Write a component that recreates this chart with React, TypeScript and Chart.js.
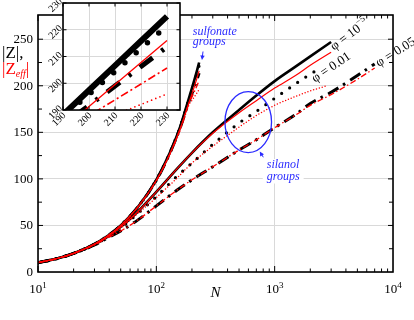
import React, { useEffect, useRef } from "react";
import { Chart, registerables } from "chart.js";
Chart.register(...registerables);

const W = 414;
const H = 320;
const FONT = "'Liberation Serif', 'Times New Roman', Times, serif";
const BLUE = "#2b2bff";
const RED = "#ff0000";
const BLACK = "#000000";
const GRID = "#d9d9d9";

// ---------- axis ticks ----------
const X_DECADES = [10, 100, 1000, 10000];
const X_EXPONENTS = ["1", "2", "3", "4"];
const Y_TICKS = [0, 50, 100, 150, 200, 250];
const INSET_TICKS = [190, 200, 210, 220, 230];

// ---------- sulfonate groups (all phi) ----------
const N_SULF = [10, 15, 20, 30, 40, 50, 70, 100, 130, 160, 190, 200, 210, 220, 230];
const Z_SULF_BLACK_SOLID = [10, 15, 20, 30, 40, 50, 70, 99, 128, 157, 188.2, 197.4, 206.6, 215.8, 225];
const Z_SULF_BLACK_DOT = [10, 15, 20, 30, 40, 50, 70, 99, 128, 157, 187.3, 195.9, 204.4, 213, 221.5];
const Z_SULF_BLACK_DASHDOT = [10, 15, 20, 30, 40, 50, 70, 98.5, 127.5, 156, 184.4, 191.7, 199, 206.3, 213.6];
const Z_SULF_RED_SOLID = [10, 15, 20, 30, 40, 50, 70, 98.5, 127, 155, 183.1, 191.3, 199.5, 207.8, 216];
const Z_SULF_RED_DASHDOT = [10, 15, 20, 30, 40, 50, 70, 98, 126.5, 154, 181.9, 187.9, 193.8, 199.7, 205.7];
const Z_SULF_RED_DOT = [10, 15, 20, 30, 40, 50, 70, 98, 126, 153, 180.4, 184.3, 188.2, 192.1, 196];

// ---------- silanol groups ----------
// phi = 1e-5
const N_PHI1 = [10, 15, 20, 30, 40, 50, 70, 100, 150, 200, 300, 500, 700, 1000, 1500, 2000, 3000];
const Z_PHI1_BLACK = [10, 15, 20, 29.5, 39, 48.5, 65, 86, 111, 128, 150, 174, 189.5, 205, 220.5, 231.5, 247];
const Z_PHI1_RED = [10, 15, 20, 29.5, 39, 48.5, 65, 86, 111, 128, 149, 171, 184, 197.5, 211, 222, 236];
// phi = 0.01
const N_PHI2_BLACK = [10, 15, 20, 30, 40, 50, 70, 100, 150, 200, 300, 500, 700, 1000, 1500, 2000, 2500];
const Z_PHI2_BLACK = [10, 15, 20, 29.5, 38.5, 47, 63, 81, 103, 117, 137, 160, 172.5, 186.5, 202, 212.5, 220];
const N_PHI2_RED = [10, 15, 20, 30, 40, 50, 70, 100, 150, 200, 300, 500, 700, 1000, 1500, 2000, 2750];
const Z_PHI2_RED = [10, 15, 20, 29.5, 38.5, 47, 63, 80, 101, 117, 135, 155.5, 168, 179, 188.5, 194.5, 200];
// phi = 0.05
const N_PHI3 = [10, 15, 20, 30, 40, 50, 70, 100, 150, 200, 300, 500, 700, 1000, 1500, 2000, 3000, 5000, 7000];
const Z_PHI3_BLACK = [10, 15, 20, 29, 37.5, 44, 56, 71, 88, 99, 113, 131, 142, 155, 169, 181, 193, 211, 223.5];
const Z_PHI3_RED = [10, 15, 20, 29, 37.5, 44, 56, 71, 88, 99, 113, 131, 142, 155, 168.5, 179, 190.5, 207, 219];

function lineDs(xs: number[], ys: number[], color: string, width: number, dash: number[], cap: string, smooth: boolean) {
  return {
    data: xs.map((x, i) => ({ x, y: ys[i] })),
    borderColor: color,
    backgroundColor: color,
    borderWidth: width,
    borderDash: dash,
    borderCapStyle: cap,
    pointRadius: 0,
    pointHoverRadius: 0,
    fill: false,
    tension: 0,
    cubicInterpolationMode: smooth ? "monotone" : "default",
    clip: 0,
  };
}

type Run = { t: string; font: string; dy?: number; color?: string };
function drawRuns(ctx: CanvasRenderingContext2D, x: number, y: number, rot: number, runs: Run[], baseline: CanvasTextBaseline = "alphabetic") {
  ctx.save();
  ctx.translate(x, y);
  ctx.rotate(rot);
  ctx.textAlign = "left";
  ctx.textBaseline = baseline;
  let cx = 0;
  for (const r of runs) {
    ctx.font = r.font;
    if (r.color) ctx.fillStyle = r.color;
    ctx.fillText(r.t, cx, r.dy || 0);
    cx += ctx.measureText(r.t).width;
  }
  ctx.restore();
}

function arrow(ctx: CanvasRenderingContext2D, x1: number, y1: number, x2: number, y2: number, color: string) {
  const ang = Math.atan2(y2 - y1, x2 - x1);
  const hl = 4.5;
  const hw = 2.2;
  ctx.save();
  ctx.strokeStyle = color;
  ctx.fillStyle = color;
  ctx.lineWidth = 1;
  ctx.beginPath();
  ctx.moveTo(x1, y1);
  ctx.lineTo(x2 - Math.cos(ang) * hl * 0.8, y2 - Math.sin(ang) * hl * 0.8);
  ctx.stroke();
  ctx.beginPath();
  ctx.moveTo(x2, y2);
  ctx.lineTo(x2 - Math.cos(ang) * hl - Math.sin(ang) * hw, y2 - Math.sin(ang) * hl + Math.cos(ang) * hw);
  ctx.lineTo(x2 - Math.cos(ang) * hl + Math.sin(ang) * hw, y2 - Math.sin(ang) * hl - Math.cos(ang) * hw);
  ctx.closePath();
  ctx.fill();
  ctx.restore();
}

const mainDecor = {
  id: "mainDecor",
  afterDraw(chart: any) {
    const { ctx, chartArea: a } = chart;
    const xs = chart.scales.x;
    const ys = chart.scales.y;
    const P = (n: number, z: number) => [xs.getPixelForValue(n), ys.getPixelForValue(z)];
    ctx.save();
    // frame
    ctx.strokeStyle = BLACK;
    ctx.lineWidth = 1.6;
    ctx.strokeRect(a.left, a.top, a.right - a.left, a.bottom - a.top);
    // inward ticks
    ctx.lineWidth = 1;
    ctx.beginPath();
    for (let v = 25; v <= 250; v += 25) {
      const py = ys.getPixelForValue(v);
      const len = v % 50 === 0 ? 5 : 4;
      ctx.moveTo(a.left, py);
      ctx.lineTo(a.left + len, py);
      ctx.moveTo(a.right, py);
      ctx.lineTo(a.right - len, py);
    }
    for (const d of [10, 100, 1000]) {
      for (let m = 1; m <= 9; m++) {
        const px = xs.getPixelForValue(d * m);
        const len = m === 1 ? 6 : 3.5;
        ctx.moveTo(px, a.bottom);
        ctx.lineTo(px, a.bottom - len);
        ctx.moveTo(px, a.top);
        ctx.lineTo(px, a.top + len);
      }
    }
    ctx.stroke();

    // y tick labels
    ctx.fillStyle = BLACK;
    ctx.font = `13px ${FONT}`;
    ctx.textAlign = "right";
    ctx.textBaseline = "middle";
    for (const v of Y_TICKS) ctx.fillText(String(v), a.left - 5, ys.getPixelForValue(v) + 0.5);

    // x tick labels 10^n
    X_DECADES.forEach((v, i) => {
      const px = xs.getPixelForValue(v);
      ctx.font = `13px ${FONT}`;
      const w1 = ctx.measureText("10").width;
      ctx.font = `9px ${FONT}`;
      const w2 = ctx.measureText(X_EXPONENTS[i]).width;
      const sx = px - (w1 + w2) / 2;
      drawRuns(ctx, sx, a.bottom + 21, 0, [
        { t: "10", font: `13px ${FONT}` },
        { t: X_EXPONENTS[i], font: `9px ${FONT}`, dy: -5.5 },
      ]);
    });

    // axis titles
    ctx.font = `italic 15px ${FONT}`;
    ctx.textAlign = "center";
    ctx.textBaseline = "alphabetic";
    ctx.fillText("N", 215.5, 296.5);

    drawRuns(ctx, 2, 58, 0, [{ t: "|Z|,", font: `17px ${FONT}`, color: BLACK }]);
    drawRuns(ctx, 2, 73.5, 0, [
      { t: "|Z", font: `17px ${FONT}`, color: RED },
      { t: "eff", font: `italic 10px ${FONT}`, dy: 3.5, color: RED },
      { t: "|", font: `17px ${FONT}`, color: RED },
    ]);

    // phi labels
    ctx.fillStyle = BLACK;
    drawRuns(ctx, 332, 48, (-37 * Math.PI) / 180, [
      { t: "\u03C6 = 10", font: `13px ${FONT}` },
      { t: "\u22125", font: `9px ${FONT}`, dy: -5 },
    ], "middle");
    drawRuns(ctx, 313, 80, (-34 * Math.PI) / 180, [{ t: "\u03C6 = 0.01", font: `13px ${FONT}` }], "middle");
    drawRuns(ctx, 377, 64, (-32 * Math.PI) / 180, [{ t: "\u03C6 = 0.05", font: `13px ${FONT}` }], "middle");

    // sulfonate annotation
    const [sx, sy1] = P(203, 254.5);
    const [, sy2] = P(203, 243.5);
    ctx.fillStyle = BLUE;
    ctx.font = `italic 12px ${FONT}`;
    ctx.textAlign = "left";
    ctx.textBaseline = "alphabetic";
    ctx.fillText("sulfonate", sx, sy1);
    ctx.fillText("groups", sx, sy2);
    const [at1x, at1y] = P(248, 236.8);
    const [ah1x, ah1y] = P(243, 227.7);
    arrow(ctx, at1x, at1y, ah1x, ah1y, BLUE);

    // silanol annotation
    const [tx, ty1] = P(857, 111.7);
    const [, ty2] = P(857, 99.3);
    ctx.font = `italic 12px ${FONT}`;
    const tw = Math.max(ctx.measureText("silanol").width, ctx.measureText("groups").width);
    ctx.fillStyle = "#ffffff";
    ctx.fillRect(tx - 4, ty1 - 9, tw + 8, ty2 - ty1 + 13);
    ctx.fillStyle = BLUE;
    ctx.fillText("silanol", tx, ty1);
    ctx.fillText("groups", tx, ty2);
    const [at2x, at2y] = P(802, 123.2);
    const [ah2x, ah2y] = P(748, 129.4);
    arrow(ctx, at2x, at2y, ah2x, ah2y, BLUE);

    // ellipse
    const [ex, ey] = P(598, 161);
    ctx.strokeStyle = BLUE;
    ctx.lineWidth = 1.3;
    ctx.beginPath();
    ctx.ellipse(ex, ey, 23.3, 30.5, 0, 0, Math.PI * 2);
    ctx.stroke();
    ctx.restore();
  },
};

const insetDecor = {
  id: "insetDecor",
  beforeDraw(chart: any) {
    const { ctx, chartArea: a } = chart;
    ctx.save();
    ctx.fillStyle = "#ffffff";
    ctx.fillRect(a.left, a.top, a.right - a.left, a.bottom - a.top);
    ctx.restore();
  },
  afterDraw(chart: any) {
    const { ctx, chartArea: a } = chart;
    const xs = chart.scales.x;
    const ys = chart.scales.y;
    ctx.save();
    ctx.strokeStyle = BLACK;
    ctx.lineWidth = 1.6;
    ctx.strokeRect(a.left, a.top, a.right - a.left, a.bottom - a.top);
    ctx.lineWidth = 1;
    ctx.beginPath();
    for (const v of INSET_TICKS) {
      const px = xs.getPixelForValue(v);
      const py = ys.getPixelForValue(v);
      ctx.moveTo(px, a.bottom);
      ctx.lineTo(px, a.bottom - 3.5);
      ctx.moveTo(px, a.top);
      ctx.lineTo(px, a.top + 3.5);
      ctx.moveTo(a.left, py);
      ctx.lineTo(a.left + 3.5, py);
      ctx.moveTo(a.right, py);
      ctx.lineTo(a.right - 3.5, py);
    }
    ctx.stroke();
    ctx.fillStyle = BLACK;
    ctx.font = `10px ${FONT}`;
    ctx.textAlign = "right";
    ctx.textBaseline = "middle";
    for (const v of INSET_TICKS) {
      const px = xs.getPixelForValue(v);
      ctx.save();
      ctx.translate(px + 1.5, a.bottom + 4);
      ctx.rotate(-Math.PI / 4);
      ctx.fillText(String(v), 0, 0);
      ctx.restore();
      const py = ys.getPixelForValue(v);
      ctx.save();
      ctx.translate(a.left - 2, py - 3);
      ctx.rotate(-Math.PI / 4);
      ctx.fillText(String(v), 0, 0);
      ctx.restore();
    }
    ctx.restore();
  },
};

function hiddenAxis(extra: any, vertical: boolean, ticks: number[]) {
  return {
    ...extra,
    display: true,
    afterBuildTicks: (s: any) => {
      s.ticks = ticks.map((v) => ({ value: v }));
    },
    afterFit: (s: any) => {
      if (vertical) s.width = 0;
      else s.height = 0;
    },
    ticks: { display: false },
    grid: { color: GRID, lineWidth: 1, drawTicks: false },
    border: { display: false },
  };
}

export default function App() {
  const mainRef = useRef<HTMLCanvasElement>(null);
  const insetRef = useRef<HTMLCanvasElement>(null);

  useEffect(() => {
    document.body.style.margin = "0";
    const mainDatasets = [
      lineDs(N_SULF, Z_SULF_RED_SOLID, RED, 1.2, [], "butt", true),
      lineDs(N_SULF, Z_SULF_RED_DASHDOT, RED, 1.3, [6, 2.5, 1.5, 2.5], "butt", true),
      lineDs(N_SULF, Z_SULF_RED_DOT, RED, 1.5, [0, 3], "round", true),
      lineDs(N_PHI1, Z_PHI1_RED, RED, 1.2, [], "butt", true),
      lineDs(N_PHI2_RED, Z_PHI2_RED, RED, 1.5, [0, 3], "round", true),
      lineDs(N_PHI3, Z_PHI3_RED, RED, 1.3, [6, 2.5, 1.5, 2.5], "butt", true),
      lineDs(N_SULF, Z_SULF_BLACK_SOLID, BLACK, 2.6, [], "butt", true),
      lineDs(N_SULF, Z_SULF_BLACK_DOT, BLACK, 3.2, [0, 9.7], "round", true),
      lineDs(N_SULF, Z_SULF_BLACK_DASHDOT, BLACK, 3, [12, 5.5, 2.5, 6], "butt", true),
      lineDs(N_PHI1, Z_PHI1_BLACK, BLACK, 2.6, [], "butt", true),
      lineDs(N_PHI2_BLACK, Z_PHI2_BLACK, BLACK, 3.2, [0, 9.7], "round", true),
      lineDs(N_PHI3, Z_PHI3_BLACK, BLACK, 3, [12, 5.5, 2.5, 6], "butt", true),
    ];
    const main = new Chart(mainRef.current as HTMLCanvasElement, {
      type: "line",
      data: { datasets: mainDatasets as any },
      options: {
        responsive: false,
        animation: false,
        devicePixelRatio: 1,
        events: [],
        layout: { padding: { left: 38, top: 15, right: 21, bottom: 48 } },
        plugins: { legend: { display: false }, tooltip: { enabled: false } },
        scales: {
          x: hiddenAxis({ type: "logarithmic", min: 10, max: 10000 }, false, X_DECADES),
          y: hiddenAxis({ type: "linear", min: 0, max: 276 }, true, Y_TICKS),
        } as any,
      },
      plugins: [mainDecor],
    } as any);

    const insetDatasets = [
      lineDs(N_SULF, Z_SULF_RED_SOLID, RED, 1.3, [], "butt", false),
      lineDs(N_SULF, Z_SULF_RED_DASHDOT, RED, 1.6, [8, 3, 2, 3], "butt", false),
      lineDs(N_SULF, Z_SULF_RED_DOT, RED, 1.7, [0, 4.5], "round", false),
      lineDs(N_SULF, Z_SULF_BLACK_SOLID, BLACK, 6, [], "butt", false),
      lineDs(N_SULF, Z_SULF_BLACK_DOT, BLACK, 5.5, [0, 15], "round", false),
      lineDs(N_SULF, Z_SULF_BLACK_DASHDOT, BLACK, 5, [16, 11, 3, 11], "butt", false),
    ];
    const inset = new Chart(insetRef.current as HTMLCanvasElement, {
      type: "line",
      data: { datasets: insetDatasets as any },
      options: {
        responsive: false,
        animation: false,
        devicePixelRatio: 1,
        events: [],
        layout: { padding: { left: 63, top: 3, right: 234, bottom: 210 } },
        plugins: { legend: { display: false }, tooltip: { enabled: false } },
        scales: {
          x: hiddenAxis({ type: "linear", min: 190, max: 235 }, false, INSET_TICKS),
          y: hiddenAxis({ type: "linear", min: 190, max: 230 }, true, INSET_TICKS),
        } as any,
      },
      plugins: [insetDecor],
    } as any);

    return () => {
      main.destroy();
      inset.destroy();
    };
  }, []);

  const cs: React.CSSProperties = { position: "absolute", left: 0, top: 0, width: W, height: H };
  return (
    <div style={{ position: "fixed", left: 0, top: 0, width: W, height: H, background: "#ffffff" }}>
      <canvas ref={mainRef} width={W} height={H} style={cs} />
      <canvas ref={insetRef} width={W} height={H} style={cs} />
    </div>
  );
}
